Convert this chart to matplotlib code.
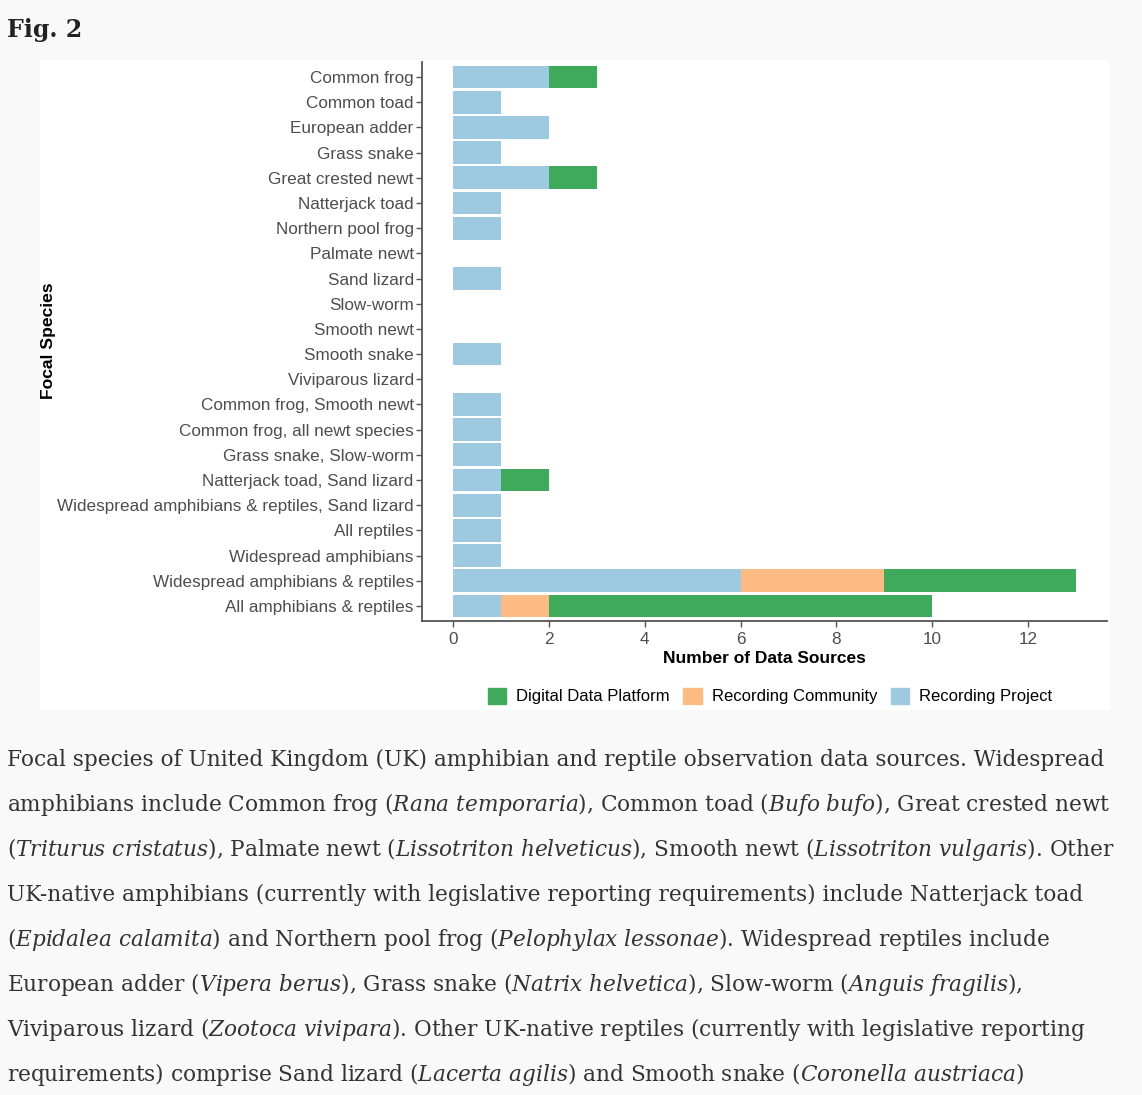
import matplotlib
matplotlib.use("Agg")
import matplotlib.pyplot as plt
from matplotlib.patches import Patch
import numpy as np

W, H = 1142, 1095

species = ["Common frog", "Common toad", "European adder", "Grass snake",
           "Great crested newt", "Natterjack toad", "Northern pool frog",
           "Palmate newt", "Sand lizard", "Slow-worm", "Smooth newt",
           "Smooth snake", "Viviparous lizard", "Common frog, Smooth newt",
           "Common frog, all newt species", "Grass snake, Slow-worm",
           "Natterjack toad, Sand lizard",
           "Widespread amphibians & reptiles, Sand lizard", "All reptiles",
           "Widespread amphibians", "Widespread amphibians & reptiles",
           "All amphibians & reptiles"]
recording_project = [2, 1, 2, 1, 2, 1, 1, 0, 1, 0, 0, 1, 0, 1, 1, 1, 1, 1, 1, 1, 6, 1]
recording_community = [0, 0, 0, 0, 0, 0, 0, 0, 0, 0, 0, 0, 0, 0, 0, 0, 0, 0, 0, 0, 3, 1]
digital_platform = [1, 0, 0, 0, 1, 0, 0, 0, 0, 0, 0, 0, 0, 0, 0, 0, 1, 0, 0, 0, 4, 8]

col_rp = "#9ecae1"
col_rc = "#fdbb84"
col_dd = "#3fa95c"

caption = [
    "Focal species of United Kingdom (UK) amphibian and reptile observation data sources. Widespread",
    r"amphibians include Common frog ($\mathit{Rana\ temporaria}$), Common toad ($\mathit{Bufo\ bufo}$), Great crested newt",
    r"($\mathit{Triturus\ cristatus}$), Palmate newt ($\mathit{Lissotriton\ helveticus}$), Smooth newt ($\mathit{Lissotriton\ vulgaris}$). Other",
    "UK-native amphibians (currently with legislative reporting requirements) include Natterjack toad",
    r"($\mathit{Epidalea\ calamita}$) and Northern pool frog ($\mathit{Pelophylax\ lessonae}$). Widespread reptiles include",
    r"European adder ($\mathit{Vipera\ berus}$), Grass snake ($\mathit{Natrix\ helvetica)}$, Slow-worm ($\mathit{Anguis\ fragilis}$),",
    r"Viviparous lizard ($\mathit{Zootoca\ vivipara}$). Other UK-native reptiles (currently with legislative reporting",
    r"requirements) comprise Sand lizard ($\mathit{Lacerta\ agilis}$) and Smooth snake ($\mathit{Coronella\ austriaca}$)",
]

plt.rcParams['mathtext.fontset'] = 'custom'
plt.rcParams['mathtext.rm'] = 'DejaVu Serif'
plt.rcParams['mathtext.it'] = 'DejaVu Serif:italic'

fig = plt.figure(figsize=(W / 100, H / 100), dpi=100, facecolor="#f9f9f9")

def fx(px):
    return px / W

def fy(py):
    return 1 - py / H

# white chart panel behind the plot
panel = fig.add_axes([fx(40), fy(710), fx(1110) - fx(40), fy(60) - fy(710)])
panel.set_axis_off()
panel.add_artist(plt.Rectangle((0, 0), 1, 1, transform=panel.transAxes,
                               facecolor="white", edgecolor="none"))
panel.set_zorder(0)

ax = fig.add_axes([fx(422), fy(621), fx(1107) - fx(422), fy(62) - fy(621)])
ax.set_zorder(2)
ax.set_facecolor("white")

y = np.arange(len(species))
rp = np.array(recording_project)
rc = np.array(recording_community)
dd = np.array(digital_platform)
ax.barh(y, rp, height=0.9, color=col_rp)
ax.barh(y, rc, left=rp, height=0.9, color=col_rc)
ax.barh(y, dd, left=rp + rc, height=0.9, color=col_dd)

ax.set_ylim(len(species) - 0.4, -0.6)
ax.set_xlim(-0.65, 13.65)
ax.set_yticks(y)
ax.set_yticklabels(species)
ax.set_xticks([0, 2, 4, 6, 8, 10, 12])

for s in ["top", "right"]:
    ax.spines[s].set_visible(False)
for s in ["left", "bottom"]:
    ax.spines[s].set_color("#555555")
    ax.spines[s].set_linewidth(1.3)
ax.tick_params(axis="both", colors="#555555", length=4, width=1.0,
               labelsize=12.3, labelcolor="#4d4d4d", pad=2)
ax.tick_params(axis="x", pad=4)
for lab in ax.get_xticklabels() + ax.get_yticklabels():
    lab.set_family("Liberation Sans")

ax.set_xlabel("Number of Data Sources", fontsize=12.5, fontweight="bold",
              family="Liberation Sans", labelpad=3)
fig.text(fx(49), fy(341), "Focal Species", rotation=90, fontsize=12.6,
         fontweight="bold", family="Liberation Sans", ha="center", va="center",
         zorder=5)

handles = [Patch(color=col_dd, label="Digital Data Platform"),
           Patch(color=col_rc, label="Recording Community"),
           Patch(color=col_rp, label="Recording Project")]
leg = fig.legend(handles=handles, loc="center", bbox_to_anchor=(fx(770), fy(696)),
                 ncol=3, frameon=False, handlelength=1.1, handleheight=1.1,
                 handletextpad=0.6, columnspacing=0.8,
                 prop={"family": "Liberation Sans", "size": 12})
leg.set_zorder(5)

fig.text(fx(7), fy(37), "Fig. 2", fontsize=17, fontweight="bold",
         family="DejaVu Serif", color="#222222", va="baseline")

for i, line in enumerate(caption):
    fig.text(fx(7), fy(766 + 45 * i), line, fontsize=15.6, family="DejaVu Serif",
             color="#333333", va="baseline")

fig.savefig("out.png", dpi=100, facecolor=fig.get_facecolor())
